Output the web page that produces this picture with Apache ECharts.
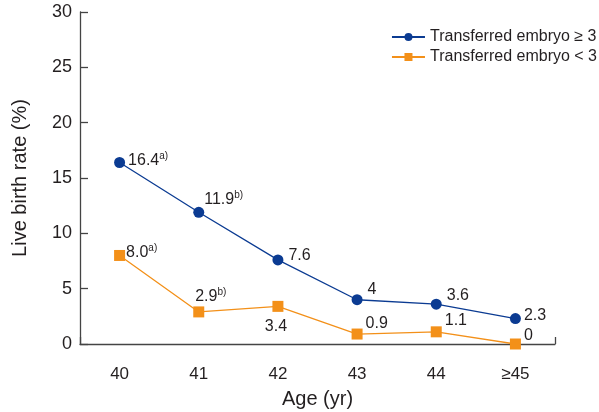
<!DOCTYPE html>
<html><head><meta charset="utf-8">
<script src="https://cdn.jsdelivr.net/npm/echarts@6/dist/echarts.min.js"></script>
<style>html,body{margin:0;padding:0;background:#fff}#c{width:599px;height:412px}</style>
</head><body><div id="c"></div>
<script>
const categories = ['40', '41', '42', '43', '44', '\u226545'];
const seriesNames = ['Transferred embryo \u2265 3', 'Transferred embryo < 3'];
const valuesHigh = [16.4, 11.9, 7.6, 4, 3.6, 2.3];
const valuesLow = [8.0, 2.9, 3.4, 0.9, 1.1, 0];
const labelsHigh = ['16.4', '11.9', '7.6', '4', '3.6', '2.3'];
const notesHigh = ['a)', 'b)', '', '', '', ''];
const labelsLow = ['8.0', '2.9', '3.4', '0.9', '1.1', '0'];
const notesLow = ['a)', 'b)', '', '', '', ''];
const yTicks = [0, 5, 10, 15, 20, 25, 30];

const FONT = '"Liberation Sans", "Noto Sans", sans-serif';
const TXT = '#231f20';
const blue = '#0b3b92';
const orange = '#f39019';

const highLabelStyle = [
  {position: 'right', distance: 3, offset: [0, -2]},
  {position: 'right', distance: 0, offset: [0, -13]},
  {position: 'right', distance: 5, offset: [0, -4]},
  {position: 'right', distance: 5, offset: [0, -10]},
  {position: 'right', distance: 5, offset: [0, -9]},
  {position: 'right', distance: 3, offset: [0, -3]}
];
const lowLabelStyle = [
  {position: 'right', distance: 1, offset: [0, -3]},
  {position: 'top', distance: 0, offset: [12, 0]},
  {position: 'bottom', distance: 5, offset: [-2, 0]},
  {position: 'right', distance: 3, offset: [0, -10]},
  {position: 'right', distance: 3, offset: [0, -11]},
  {position: 'right', distance: 3, offset: [0, -8]}
];

const rich = {
  v: {fontSize: 16, fontFamily: FONT, color: TXT, lineHeight: 20},
  s: {fontSize: 10, fontFamily: FONT, color: TXT, padding: [0, 0, 9, 0], lineHeight: 20}
};

function build(values, labels, notes, styles) {
  return values.map((v, i) => ({
    value: v,
    label: Object.assign({
      show: true,
      formatter: '{v|' + labels[i] + '}' + (notes[i] ? '{s|' + notes[i] + '}' : ''),
      rich: rich
    }, styles[i])
  }));
}

const chart = echarts.init(document.getElementById('c'));
chart.setOption({
  animation: false,
  backgroundColor: '#fff',
  grid: {left: 80, right: 44, top: 12, bottom: 68, containLabel: false, outerBoundsMode: 'none'},
  legend: {
    data: seriesNames,
    orient: 'vertical',
    right: 2,
    top: 29,
    padding: 0,
    itemGap: 4,
    itemWidth: 33,
    itemHeight: 10,
    textStyle: {fontFamily: FONT, fontSize: 16, color: TXT}
  },
  xAxis: {
    type: 'category',
    data: categories,
    boundaryGap: true,
    name: 'Age (yr)',
    nameLocation: 'middle',
    nameGap: 45,
    nameTextStyle: {fontFamily: FONT, fontSize: 20, color: TXT},
    axisLine: {lineStyle: {color: '#444', width: 1.3}},
    axisTick: {show: true, inside: true, length: 7, interval: (i) => i === 5, lineStyle: {color: '#444', width: 1.3}},
    axisLabel: {fontFamily: FONT, fontSize: 17, color: TXT, margin: 22, interval: 0}
  },
  yAxis: {
    type: 'value',
    min: yTicks[0],
    max: yTicks[yTicks.length - 1],
    interval: yTicks[1] - yTicks[0],
    name: 'Live birth rate (%)',
    nameLocation: 'middle',
    nameGap: 50,
    nameTextStyle: {fontFamily: FONT, fontSize: 20, color: TXT},
    axisLine: {show: true, lineStyle: {color: '#444', width: 1.3}},
    axisTick: {show: true, inside: true, length: 8, lineStyle: {color: '#444', width: 1.3}},
    axisLabel: {fontFamily: FONT, fontSize: 18, color: TXT, margin: 8},
    splitLine: {show: false}
  },
  series: [
    {
      name: seriesNames[0],
      type: 'line',
      data: build(valuesHigh, labelsHigh, notesHigh, highLabelStyle),
      symbol: 'circle',
      symbolSize: 11,
      itemStyle: {color: blue},
      lineStyle: {color: blue, width: 1.3},
      z: 3
    },
    {
      name: seriesNames[1],
      type: 'line',
      data: build(valuesLow, labelsLow, notesLow, lowLabelStyle),
      symbol: 'rect',
      symbolSize: 11,
      itemStyle: {color: orange},
      lineStyle: {color: orange, width: 1.3},
      z: 2
    }
  ]
});
</script></body></html>
